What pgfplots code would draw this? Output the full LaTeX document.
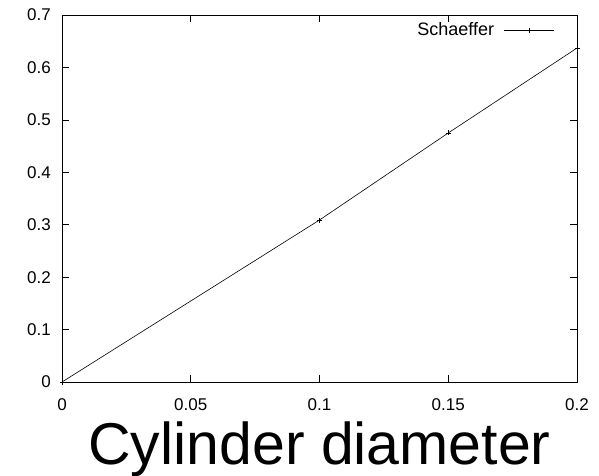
\documentclass[border=0pt]{standalone}
\usepackage{fontspec}
\setmainfont{Liberation Sans}
\usepackage{pgfplots}
\pgfplotsset{compat=1.18}
\begin{document}
\begin{tikzpicture}
\useasboundingbox (0,0) rectangle (599pt,475pt);
\begin{axis}[
    at={(62pt,93pt)}, anchor=south west,
    scale only axis,
    width=515pt, height=367pt,
    xmin=0, xmax=0.2, ymin=0, ymax=0.7,
    axis line style={line width=0.6pt},
    tick align=inside,
    major tick length=7pt,
    tick style={black, line width=0.6pt},
    xtick={0,0.05,0.1,0.15,0.2},
    xticklabels={0,0.05,0.1,0.15,0.2},
    ytick={0,0.1,0.2,0.3,0.4,0.5,0.6,0.7},
    yticklabels={0,0.1,0.2,0.3,0.4,0.5,0.6,0.7},
    ticklabel style={font=\fontsize{17}{17}\selectfont},
    xticklabel style={anchor=north, inner sep=0pt, yshift=-16pt},
    yticklabel style={anchor=east, inner sep=0pt, xshift=-11pt},
    xlabel={Cylinder diameter},
    xlabel style={at={(axis description cs:0.5,0)}, anchor=base, yshift=-82pt,
        font=\fontsize{59}{59}\selectfont},
    legend style={draw=none, fill=none, at={(rel axis cs:0.957,0.959)}, anchor=east,
        inner sep=0pt, column sep=8pt, font=\fontsize{18}{18}\selectfont},
    legend plot pos=right,
    legend cell align=right,
    legend image code/.code={
        \draw[mark repeat=2,mark phase=2,#1] plot coordinates {(0pt,0pt) (25pt,0pt) (50pt,0pt)};
    },
]
\addplot[black, line width=0.6pt, mark=+, mark size=2.5pt, mark options={line width=0.6pt}]
    coordinates {(0,0) (0.1,0.309) (0.15,0.475) (0.2,0.637)};
\addlegendentry{Schaeffer}
\end{axis}
\end{tikzpicture}
\end{document}
